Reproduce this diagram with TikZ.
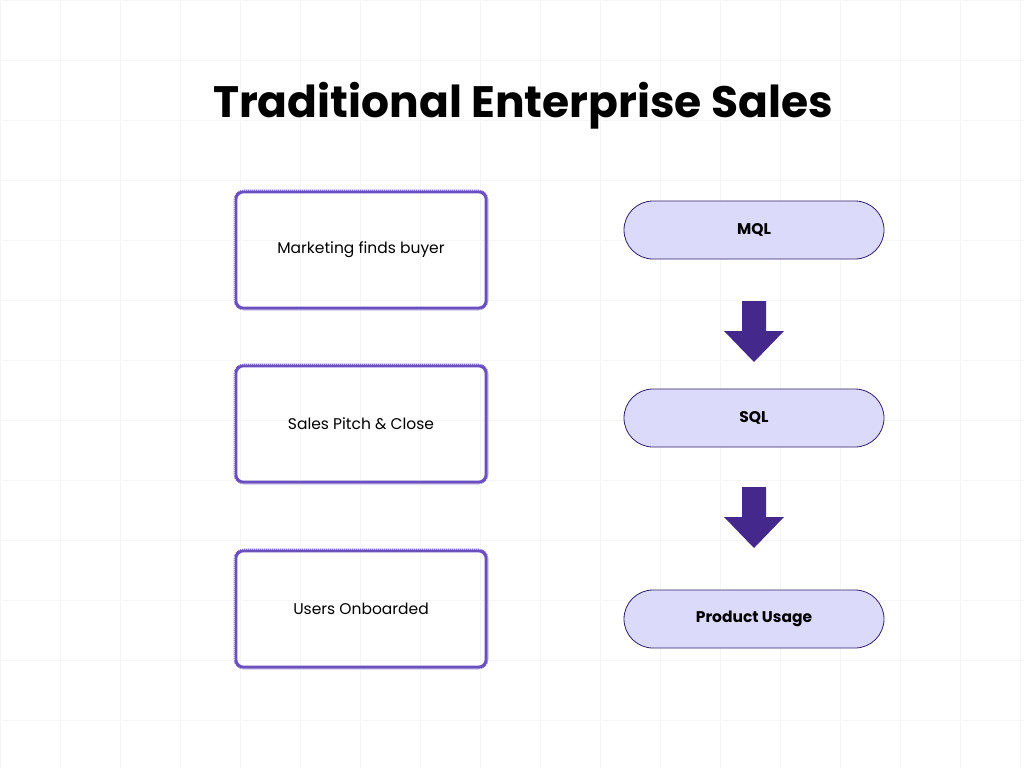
\documentclass[tikz,border=0pt]{standalone}
\usepackage{fontspec}
\setmainfont{Poppins}
\definecolor{boxline}{HTML}{6A4FC0}
\definecolor{pillfill}{HTML}{DCDAFA}
\definecolor{pillline}{HTML}{2E1F6B}
\definecolor{arrowc}{HTML}{45288C}
\tikzset{
 hatchbox/.style={minimum width=251pt,minimum height=117pt,rounded corners=8pt},
 boxtext/.style={font=\fontsize{15.5}{18}\selectfont},
 pill/.style={draw=pillline,fill=pillfill,line width=0.8pt,rounded corners=29pt,minimum width=260pt,minimum height=58pt,font=\bfseries\fontsize{15.5}{18}\selectfont},
 blockarrow/.style={fill=arrowc,draw=none}
}
\begin{document}
\begin{tikzpicture}[x=1pt,y=-1pt]
\useasboundingbox (0,0) rectangle (1024,768);
\fill[white] (0,0) rectangle (1024,768);
\foreach \i in {0,60,...,1020}{\draw[black!4,line width=0.5pt] (\i,0) -- (\i,768);}
\foreach \i in {0,60,...,760}{\draw[black!4,line width=0.5pt] (0,\i) -- (1024,\i);}
\node[font=\bfseries\fontsize{44}{50}\selectfont] (title) at (523,106) {Traditional Enterprise Sales};
\foreach \n/\y/\t in {b1/250/Marketing finds buyer,b2/424/Sales Pitch \& Close,b3/609/Users Onboarded}{
 \node[hatchbox,draw=boxline,line width=3.6pt] (\n) at (361,\y) {};
 \draw[white,line width=2.2pt,dash pattern=on 0.8pt off 1.2pt,rounded corners=8pt] (\n.north west) rectangle (\n.south east);
 \node[boxtext] at (\n) {\t};
}
\node[pill] (mql) at (754,230) {MQL};
\node[pill] (sql) at (754,418) {SQL};
\node[pill] (pu) at (754,619) {Product Usage};
\foreach \y in {301,487}{
 \fill[blockarrow] (742,\y) -- (766,\y) -- (766,\y+30) -- (784,\y+30) -- (754,\y+61) -- (724,\y+30) -- (742,\y+30) -- cycle;
}
\end{tikzpicture}
\end{document}
